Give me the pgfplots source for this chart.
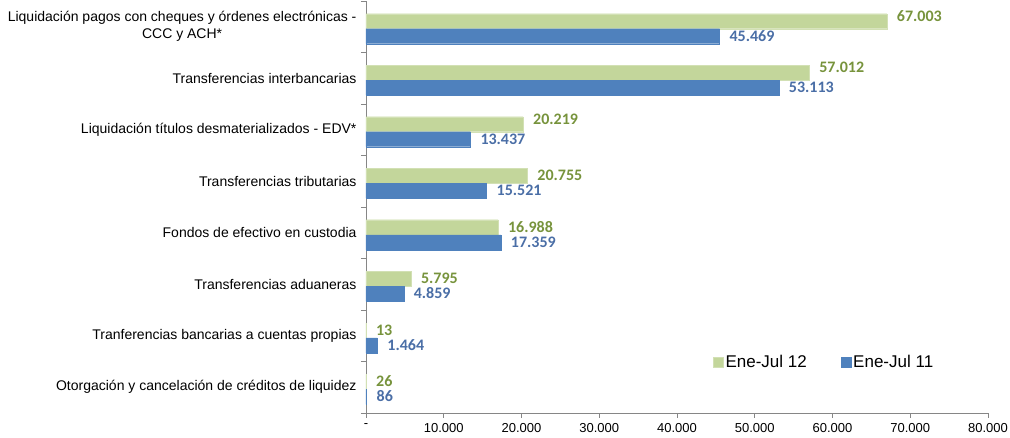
\documentclass[border=0pt]{standalone}
\usepackage{pgfplots}
\pgfplotsset{compat=1.18}
\usepackage{fontspec}
\setmainfont{Liberation Sans}
\newfontfamily\carlito{Carlito}
\definecolor{grbar}{HTML}{C3D69B}
\definecolor{blbar}{HTML}{4F81BD}
\definecolor{grlab}{HTML}{77933C}
\definecolor{bllab}{HTML}{4A6EA6}
\definecolor{axgray}{HTML}{868686}
\begin{document}
\begin{tikzpicture}
\path[use as bounding box] (-366pt,-24pt) rectangle (644pt,413pt);
\begin{axis}[
  at={(0pt,0pt)}, anchor=south west,
  scale only axis, width=622pt, height=412pt,
  xbar, bar width=15pt,
  xmin=0, xmax=80000,
  ymin=-0.5, ymax=7.5,
  axis lines*=left,
  axis line style={-, draw=axgray, line width=0.8pt},
  tick align=outside,
  tick style={draw=axgray, line width=0.8pt},
  major tick length=4.5pt, minor tick length=5pt,
  xtick={0,10000,...,80000},
  xticklabels={-,10.000,20.000,30.000,40.000,50.000,60.000,70.000,80.000},
  xticklabel style={font=\fontsize{13}{15}\selectfont, yshift=-5pt, inner sep=1pt},
  ytick={0,...,7},
  yticklabels={
    Otorgación y cancelación de créditos de liquidez,
    Tranferencias bancarias a cuentas propias,
    Transferencias aduaneras,
    Fondos de efectivo en custodia,
    Transferencias tributarias,
    Liquidación títulos desmaterializados - EDV*,
    Transferencias interbancarias,
    {Liquidación pagos con cheques y órdenes electrónicas -\\CCC y ACH*}},
  yticklabel style={font=\fontsize{14}{17}\selectfont, align=center, xshift=-1.5pt},
  major y tick style={draw=none},
  minor ytick={-0.5,0.5,...,7.5},
  minor y tick style={draw=axgray, line width=0.8pt},
  nodes near coords,
  point meta=explicit symbolic,
  every node near coord/.append style={font=\carlito\bfseries\fontsize{16}{18}\selectfont,
    anchor=west, xshift=6.5pt, text height=10pt, text depth=0pt},
  legend style={at={(rel axis cs:0.553,0.124)}, anchor=west, draw=none, fill=none,
    legend columns=2, font=\fontsize{17}{20}\selectfont,
    /tikz/every even column/.append style={column sep=32pt}},
  legend image code/.code={\fill[#1] (0pt,-5pt) rectangle (10pt,5pt);},
]
\addplot[fill=grbar, draw=grbar!75!white, bar shift=5.5pt,
  every node near coord/.append style={text=grlab}]
  coordinates {
  (67003,7) [\raisebox{5pt}{67.003}]
  (57012,6) [\raisebox{5pt}{57.012}]
  (20219,5) [\raisebox{5pt}{20.219}]
  (20755,4) [20.755]
  (16988,3) [16.988]
  (5795,2) [5.795]
  (13,1) [13]
  (26,0) [26]
};
\addlegendentry{Ene-Jul 12}
\addplot[fill=blbar, draw=blbar, bar shift=-9.5pt,
  every node near coord/.append style={text=bllab}]
  coordinates {
  (45469,7) [45.469]
  (53113,6) [53.113]
  (13437,5) [13.437]
  (15521,4) [15.521]
  (17359,3) [17.359]
  (4859,2) [4.859]
  (1464,1) [1.464]
  (86,0) [86]
};
\addlegendentry{Ene-Jul 11}
\end{axis}
\end{tikzpicture}
\end{document}
